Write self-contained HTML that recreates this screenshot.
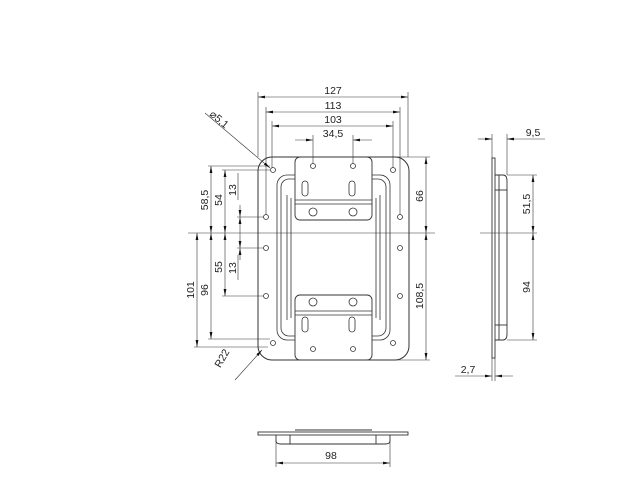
<!DOCTYPE html>
<html><head><meta charset="utf-8"><style>body{margin:0;background:#fff}svg{display:block}text{font-family:"Liberation Sans",sans-serif;font-size:10.5px;fill:#222}</style></head><body>
<svg width="640" height="480" viewBox="0 0 640 480" xmlns="http://www.w3.org/2000/svg">
<defs><marker id="a" viewBox="0 0 10 4" refX="10" refY="2" markerUnits="userSpaceOnUse" markerWidth="7" markerHeight="3" orient="auto-start-reverse"><path d="M0 0L10 2L0 4z" fill="#111"/></marker></defs>
<g stroke="#333" stroke-width="0.8" fill="none">
<rect x="258" y="157" width="151" height="203" rx="14" stroke-width="1"/>
<rect x="277" y="175" width="113" height="165" rx="10"/>
<rect x="281" y="179" width="105" height="157" rx="8"/>
<line x1="287" y1="195" x2="287" y2="320"/><line x1="380" y1="195" x2="380" y2="320"/>
<line x1="291" y1="198" x2="291" y2="318"/><line x1="376" y1="198" x2="376" y2="318"/>
<rect x="295" y="157" width="77" height="63" rx="5" fill="#fff" stroke-width="0.9"/>
<line x1="295" y1="200" x2="372" y2="200"/><line x1="295" y1="204" x2="372" y2="204"/>
<rect x="295" y="295" width="77" height="65" rx="5" fill="#fff" stroke-width="0.9"/>
<line x1="295" y1="311" x2="372" y2="311"/><line x1="295" y1="315" x2="372" y2="315"/>
<rect x="302" y="181" width="6" height="15" rx="3"/><rect x="349" y="181" width="6" height="15" rx="3"/>
<rect x="302" y="317" width="6" height="15" rx="3"/><rect x="349" y="317" width="6" height="15" rx="3"/>
<circle cx="313" cy="166" r="2.5"/><circle cx="353" cy="166" r="2.5"/>
<circle cx="313" cy="212" r="4"/><circle cx="353" cy="212" r="4"/>
<circle cx="313" cy="302" r="4"/><circle cx="353" cy="302" r="4"/>
<circle cx="313" cy="349" r="2.5"/><circle cx="353" cy="349" r="2.5"/>
<circle cx="273" cy="170" r="2.5"/><circle cx="393" cy="170" r="2.5"/>
<circle cx="273" cy="343" r="2.5"/><circle cx="393" cy="343" r="2.5"/>
<circle cx="266" cy="217" r="2.5"/><circle cx="266" cy="248" r="2.5"/><circle cx="266" cy="296" r="2.5"/>
<circle cx="400" cy="217" r="2.5"/><circle cx="400" cy="248" r="2.5"/><circle cx="400" cy="296" r="2.5"/>
</g>
<g stroke="#333" stroke-width="0.6" fill="none">
<line x1="188" y1="233" x2="435" y2="233"/>
<line x1="258" y1="92" x2="258" y2="157"/><line x1="408" y1="92" x2="408" y2="157"/>
<line x1="266" y1="107" x2="266" y2="215"/><line x1="400" y1="107" x2="400" y2="215"/>
<line x1="272" y1="121" x2="272" y2="168"/><line x1="393" y1="121" x2="393" y2="168"/>
<line x1="313" y1="135" x2="313" y2="164"/><line x1="353" y1="135" x2="353" y2="164"/>
<line x1="258" y1="97" x2="408" y2="97" marker-start="url(#a)" marker-end="url(#a)"/>
<line x1="266" y1="112" x2="400" y2="112" marker-start="url(#a)" marker-end="url(#a)"/>
<line x1="272" y1="126" x2="393" y2="126" marker-start="url(#a)" marker-end="url(#a)"/>
<line x1="295" y1="140" x2="313" y2="140" marker-end="url(#a)"/><line x1="372" y1="140" x2="353" y2="140" marker-end="url(#a)"/>
<line x1="208" y1="166" x2="270" y2="166"/><line x1="222" y1="170" x2="270" y2="170"/>
<line x1="237" y1="217" x2="263" y2="217"/><line x1="237" y1="248" x2="263" y2="248"/>
<line x1="222" y1="296" x2="263" y2="296"/><line x1="208" y1="339" x2="270" y2="339"/>
<line x1="194" y1="347" x2="268" y2="347"/>
<line x1="197" y1="233" x2="197" y2="347" marker-start="url(#a)" marker-end="url(#a)"/>
<line x1="211" y1="166" x2="211" y2="233" marker-start="url(#a)" marker-end="url(#a)"/>
<line x1="211" y1="233" x2="211" y2="339" marker-start="url(#a)" marker-end="url(#a)"/>
<line x1="225" y1="170" x2="225" y2="233" marker-start="url(#a)" marker-end="url(#a)"/>
<line x1="225" y1="233" x2="225" y2="296" marker-start="url(#a)" marker-end="url(#a)"/>
<line x1="240" y1="205" x2="240" y2="217" marker-end="url(#a)"/>
<line x1="240" y1="217" x2="240" y2="248" marker-start="url(#a)" marker-end="url(#a)"/>
<line x1="240" y1="260" x2="240" y2="248" marker-end="url(#a)"/>
<line x1="238" y1="173" x2="238" y2="200"/><line x1="238" y1="255" x2="238" y2="280"/>
<line x1="375" y1="157" x2="430" y2="157"/><line x1="375" y1="360" x2="430" y2="360"/>
<line x1="426" y1="157" x2="426" y2="233" marker-start="url(#a)" marker-end="url(#a)"/>
<line x1="426" y1="233" x2="426" y2="360" marker-start="url(#a)" marker-end="url(#a)"/>
<line x1="205" y1="113" x2="270" y2="168" marker-end="url(#a)"/>
<line x1="235" y1="380" x2="262" y2="350" marker-end="url(#a)"/>
<line x1="480" y1="233" x2="537" y2="233"/>
<line x1="492" y1="134" x2="492" y2="158"/><line x1="507" y1="134" x2="507" y2="175"/>
<line x1="478" y1="139" x2="492" y2="139" marker-end="url(#a)"/><line x1="545" y1="139" x2="507" y2="139" marker-end="url(#a)"/>
<line x1="507" y1="175" x2="537" y2="175"/><line x1="507" y1="340" x2="537" y2="340"/>
<line x1="533" y1="175" x2="533" y2="233" marker-start="url(#a)" marker-end="url(#a)"/>
<line x1="533" y1="233" x2="533" y2="340" marker-start="url(#a)" marker-end="url(#a)"/>
<line x1="492" y1="358" x2="492" y2="381"/><line x1="495" y1="358" x2="495" y2="381"/>
<line x1="455" y1="376" x2="492" y2="376" marker-end="url(#a)"/><line x1="513" y1="376" x2="495" y2="376" marker-end="url(#a)"/>
<line x1="276" y1="440" x2="276" y2="467"/><line x1="390" y1="440" x2="390" y2="467"/>
<line x1="276" y1="463" x2="390" y2="463" marker-start="url(#a)" marker-end="url(#a)"/>
</g>
<g stroke="#333" stroke-width="0.9" fill="none">
<rect x="492" y="158" width="3" height="200"/>
<path d="M495 175H503Q507 175 507 181V334Q507 340 503 340H495"/>
<line x1="499" y1="175" x2="499" y2="340"/>
<line x1="495" y1="190" x2="507" y2="190"/><line x1="495" y1="325" x2="507" y2="325"/>
<rect x="258" y="432" width="150" height="3"/>
<path d="M276 435V441Q276 444 281 444H385Q390 444 390 441V435"/>
<line x1="290" y1="435" x2="290" y2="444"/><line x1="376" y1="435" x2="376" y2="444"/>
<line x1="295" y1="430" x2="372" y2="430"/>
</g>
<g text-anchor="middle">
<text x="333" y="94">127</text><text x="333" y="109">113</text><text x="333" y="123">103</text><text x="333" y="137">34,5</text>
<text transform="translate(208,200) rotate(-90)">58,5</text>
<text transform="translate(222,200) rotate(-90)">54</text>
<text transform="translate(236,190) rotate(-90)">13</text>
<text transform="translate(222,267) rotate(-90)">55</text>
<text transform="translate(236,268) rotate(-90)">13</text>
<text transform="translate(194,290) rotate(-90)">101</text>
<text transform="translate(208,290) rotate(-90)">96</text>
<text transform="translate(423,196) rotate(-90)">66</text>
<text transform="translate(423,296) rotate(-90)">108,5</text>
<text transform="translate(217,122) rotate(40)">⌀5,1</text>
<text transform="translate(225,360) rotate(-60)">R22</text>
<text x="533" y="136">9,5</text>
<text transform="translate(530,204) rotate(-90)">51,5</text>
<text transform="translate(530,287) rotate(-90)">94</text>
<text x="468" y="373">2,7</text>
<text x="331" y="459">98</text>
</g>
</svg>
</body></html>
